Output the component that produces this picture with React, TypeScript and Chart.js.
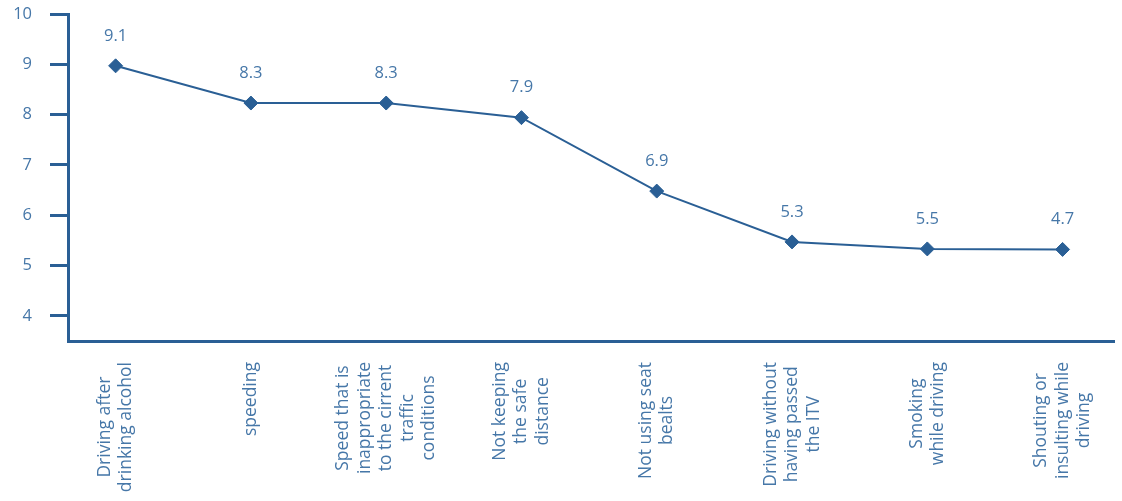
import React, { useEffect, useRef } from "react";
import { Chart, registerables } from "chart.js";

Chart.register(...registerables);

const categories: string[][] = [
  ["Driving after", "drinking alcohol"],
  ["speeding"],
  ["Speed that is", "inappropriate", "to the cirrent", "traffic", "conditions"],
  ["Not keeping", "the safe", "distance"],
  ["Not using seat", "bealts"],
  ["Driving without", "having passed", "the ITV"],
  ["Smoking", "while driving"],
  ["Shouting or", "insulting while", "driving"],
];
const values: number[] = [8.97, 8.23, 8.23, 7.94, 6.48, 5.47, 5.33, 5.32];
const valueLabels: string[] = ["9.1", "8.3", "8.3", "7.9", "6.9", "5.3", "5.5", "4.7"];
const yTicks: number[] = [4, 5, 6, 7, 8, 9, 10];

const LINE = "#2A5F95";
const TEXT = "#4677A8";
const FONT = "'Open Sans', sans-serif";

const labelsPlugin = {
  id: "customLabels",
  afterDatasetsDraw(chart: any) {
    const ctx = chart.ctx;
    const xs = chart.scales.x;
    const ys = chart.scales.y;
    ctx.save();
    ctx.fillStyle = TEXT;
    ctx.font = `16.5px ${FONT}`;
    ctx.textAlign = "center";
    ctx.textBaseline = "middle";
    values.forEach((v, i) => {
      const x = xs.getPixelForValue(i);
      const y = ys.getPixelForValue(v);
      ctx.fillText(valueLabels[i], x, y - 30);
    });
    ctx.font = `17.5px ${FONT}`;
    const lh = 21.5;
    const top = ys.bottom + 21;
    categories.forEach((lines, i) => {
      const x = xs.getPixelForValue(i);
      const w = Math.max(...lines.map((l) => ctx.measureText(l).width));
      const cy = top + w / 2;
      lines.forEach((line, j) => {
        const off = (j - (lines.length - 1) / 2) * lh;
        ctx.save();
        ctx.translate(x + off, cy);
        ctx.rotate(-Math.PI / 2);
        ctx.fillText(line, 0, 0);
        ctx.restore();
      });
    });
    ctx.restore();
  },
};

export default function App() {
  const ref = useRef<HTMLCanvasElement>(null);
  useEffect(() => {
    if (!ref.current) return;
    const chart = new Chart(ref.current, {
      type: "line",
      data: {
        datasets: [
          {
            data: values.map((v, i) => ({ x: i, y: v })),
            borderColor: LINE,
            backgroundColor: LINE,
            borderWidth: 2,
            pointStyle: "rectRot",
            pointRadius: 7,
            pointBackgroundColor: LINE,
            pointBorderColor: LINE,
            pointBorderWidth: 1,
            tension: 0,
          },
        ],
      },
      options: {
        responsive: false,
        animation: false,
        layout: { padding: { top: 14, right: 0, left: 0, bottom: 0 } },
        plugins: { legend: { display: false }, tooltip: { enabled: false } },
        scales: {
          x: {
            type: "linear",
            min: -0.352,
            max: 7.38,
            grid: { display: false },
            border: { display: true, color: LINE, width: 3 },
            ticks: { display: false },
            afterFit: (s: any) => {
              s.height = 160;
              s.paddingLeft = 0;
              s.paddingRight = 0;
            },
          },
          y: {
            min: 3.5,
            max: 10,
            afterBuildTicks: (s: any) => {
              s.ticks = yTicks.map((v) => ({ value: v }));
            },
            grid: {
              drawOnChartArea: false,
              drawTicks: true,
              tickLength: 18,
              tickWidth: 3,
              tickColor: LINE,
            },
            border: { display: true, color: LINE, width: 3 },
            ticks: {
              color: TEXT,
              padding: 18,
              font: { family: FONT, size: 16.5 },
            },
            afterFit: (s: any) => {
              s.width = 68;
              s.paddingTop = 0;
              s.paddingBottom = 0;
            },
          },
        },
      },
      plugins: [labelsPlugin],
    });
    return () => chart.destroy();
  }, []);
  return (
    <div style={{ position: "fixed", left: 0, top: 0, width: 1122, height: 501, background: "#fff" }}>
      <canvas ref={ref} width={1122} height={501} />
    </div>
  );
}
